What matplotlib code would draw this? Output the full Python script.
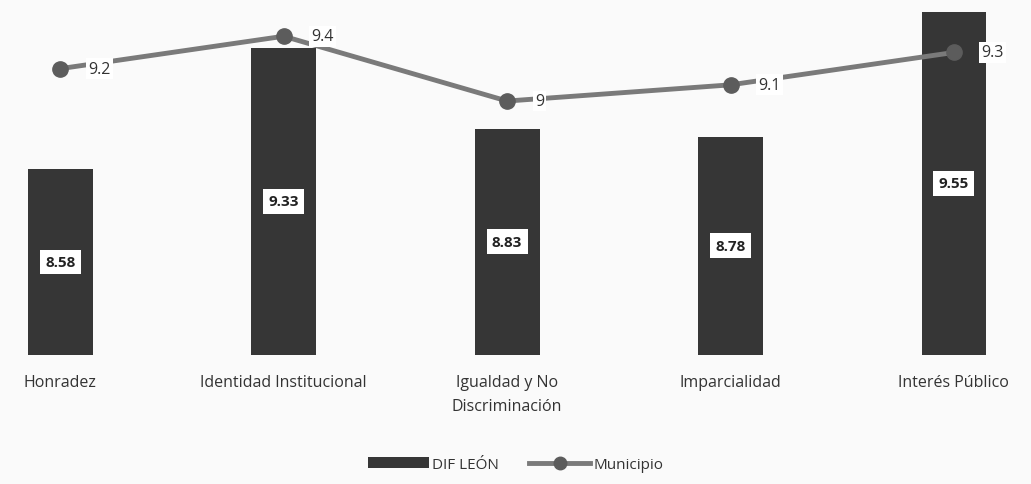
import matplotlib.pyplot as plt
from matplotlib.lines import Line2D
from matplotlib.patches import Patch

# Datos del gráfico
categorias = ['Honradez', 'Identidad Institucional', 'Igualdad y No\nDiscriminación',
              'Imparcialidad', 'Interés Público']
dif_leon = [8.58, 9.33, 8.83, 8.78, 9.55]
municipio = [9.2, 9.4, 9.0, 9.1, 9.3]

plt.rcParams['font.family'] = ['Open Sans', 'DejaVu Sans']

fig = plt.figure(figsize=(10.31, 4.85), dpi=100)
fig.patch.set_facecolor('#fafafa')
ax = fig.add_axes([0, 0.266, 1, 0.734])
ax.set_facecolor('#fafafa')

ymin, ymax = 7.432, 9.63

x = list(range(len(categorias)))
ax.bar(x, dif_leon, width=0.29, color='#363636', zorder=2)
ax.plot(x, municipio, color='#7a7a7a', linewidth=3.5, marker='o', markersize=11,
        markerfacecolor='#5c5c5c', markeredgecolor='#5c5c5c', zorder=3)

ax.set_xlim(-0.27, 4.345)
ax.set_ylim(ymin, ymax)

# etiquetas de las barras
for xi, v in zip(x, dif_leon):
    ax.text(xi, (ymin + v) / 2, f'{v:.2f}', ha='center', va='center', fontsize=11,
            fontweight='bold', color='#222222', zorder=4,
            bbox=dict(boxstyle='square,pad=0.35', facecolor='white', edgecolor='none'))

# etiquetas de la línea
for xi, v in zip(x, municipio):
    ax.annotate(f'{v:g}', (xi, v), xytext=(20, 0), textcoords='offset points',
                ha='left', va='center', fontsize=11.5, color='#333333', zorder=4,
                bbox=dict(boxstyle='square,pad=0.15', facecolor='white', edgecolor='none'))

for s in ax.spines.values():
    s.set_visible(False)
ax.set_yticks([])
ax.set_xticks(x)
ax.set_xticklabels(categorias, fontsize=11.5, color='#333333', linespacing=1.6)
ax.tick_params(axis='x', length=0, pad=14)

handles = [Patch(facecolor='#363636'),
           Line2D([0], [0], color='#7a7a7a', linewidth=3.5, marker='o', markersize=9,
                  markerfacecolor='#5c5c5c', markeredgecolor='#5c5c5c')]
fig.legend(handles, ['DIF LEÓN', 'Municipio'], loc='center', bbox_to_anchor=(0.5, 0.04),
           ncol=2, frameon=False, fontsize=11, handlelength=4, handletextpad=0.2,
           columnspacing=2, labelcolor='#333333')

plt.savefig('out.png', dpi=100, facecolor=fig.get_facecolor())
